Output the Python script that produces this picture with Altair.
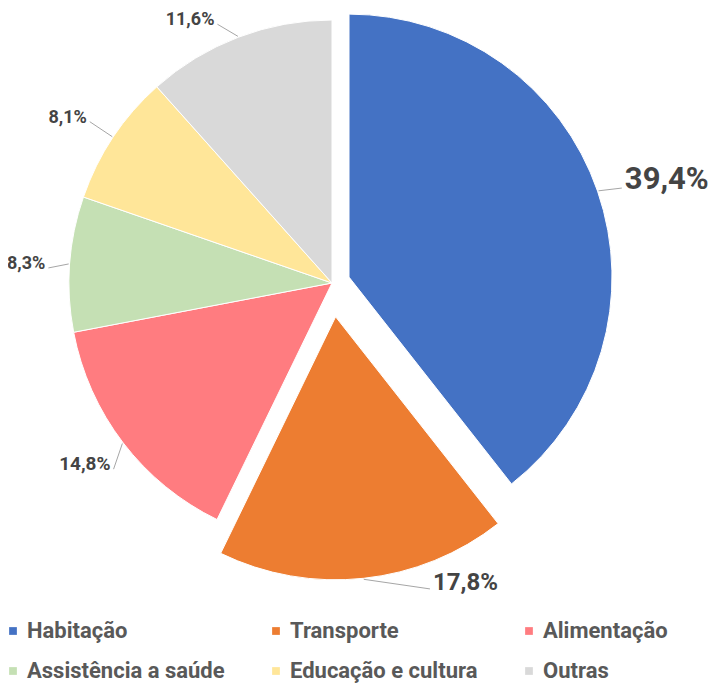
import math
import altair as alt
import pandas as pd

# ---- data ----
categorias = ["Habitação", "Transporte", "Alimentação",
              "Assistência a saúde", "Educação e cultura", "Outras"]
valores = [39.4, 17.8, 14.8, 8.3, 8.1, 11.6]
cores = ["#4472C4", "#ED7D31", "#FF7C80", "#C5E0B4", "#FFE699", "#D9D9D9"]

# ---- layout / style (not data) ----
W, H = 708, 675
CX, CY, R = 324, 275, 263
explode = {"Habitação": 18, "Transporte": 34}
label_shift = {"Habitação": 1, "Transporte": -13, "Alimentação": -3,
               "Assistência a saúde": -1.1, "Educação e cultura": 0, "Outras": -3}
label_ext = {"Habitação": 24, "Transporte": 25, "Alimentação": 24,
             "Assistência a saúde": 21, "Educação e cultura": 28, "Outras": 20}
label_size = {"Habitação": 31, "Transporte": 24, "Alimentação": 19,
              "Assistência a saúde": 18, "Educação e cultura": 18, "Outras": 18}

rows = []
acc = 0.0
for c, v in zip(categorias, valores):
    start, end = acc, acc + v
    acc = end
    mid = (start + end) / 2 / 100 * 2 * math.pi
    e = explode.get(c, 0)
    cx = CX + e * math.sin(mid)
    cy = CY - e * math.cos(mid)
    # leader line from slice edge to label anchor
    sx = cx + (R + 1) * math.sin(mid)
    sy = cy - (R + 1) * math.cos(mid)
    la = mid + math.radians(label_shift[c])
    lr = R + label_ext[c]
    ex = cx + lr * math.sin(la)
    ey = cy - lr * math.cos(la)
    right = math.sin(la) > 0
    rows.append(dict(
        Categoria=c, Valor=v, ini=start, fim=end, cx=cx, cy=cy,
        sx=sx, sy=sy, ex=ex, ey=ey,
        tx=ex + (3 if right else -3), ty=ey + 1,
        Rotulo=f"{v:.1f}".replace(".", ",") + "%",
        tam=label_size[c],
    ))
df = pd.DataFrame(rows)
df_r = df[df["tx"] > df["ex"]]
df_l = df[df["tx"] < df["ex"]]

color = alt.Color(
    "Categoria:N",
    scale=alt.Scale(domain=categorias, range=cores),
    sort=categorias,
    legend=alt.Legend(
        title=None, orient="none", legendX=-6, legendY=612, direction="horizontal",
        columns=3, columnPadding=40, rowPadding=18, gridAlign="each",
        symbolType="square", symbolSize=60, symbolStrokeWidth=0, labelOffset=3,
        labelFont="Roboto", labelFontSize=22, labelFontWeight="bold",
        labelColor="#595959", labelLimit=400,
    ),
)

arcs = alt.Chart(df).mark_arc(radius=R, stroke="white", strokeWidth=1).encode(
    theta=alt.Theta("ini:Q", scale=alt.Scale(domain=[0, 100], range=[0, 2 * math.pi]), stack=None),
    theta2="fim:Q",
    x=alt.X("cx:Q", scale=None),
    y=alt.Y("cy:Q", scale=None),
    color=color,
    order=alt.Order("ini:Q"),
)

lines = alt.Chart(df).mark_rule(color="#A6A6A6", strokeWidth=1).encode(
    x=alt.X("sx:Q", scale=None), y=alt.Y("sy:Q", scale=None),
    x2="ex:Q", y2="ey:Q",
)

def texts(d, align):
    return alt.Chart(d).mark_text(
        align=align, baseline="alphabetic", font="Roboto", fontWeight="bold", color="#444444"
    ).encode(
        x=alt.X("tx:Q", scale=None), y=alt.Y("ty:Q", scale=None),
        text="Rotulo:N",
        size=alt.Size("tam:Q", scale=None),
    )

chart = alt.layer(arcs, lines, texts(df_r, "left"), texts(df_l, "right")).properties(
    width=W, height=H, padding=0, autosize=alt.AutoSizeParams(type="none"),
).configure(background="white").configure_view(stroke=None)

chart.save("out.html", embed_options={"renderer": "svg", "actions": False})
